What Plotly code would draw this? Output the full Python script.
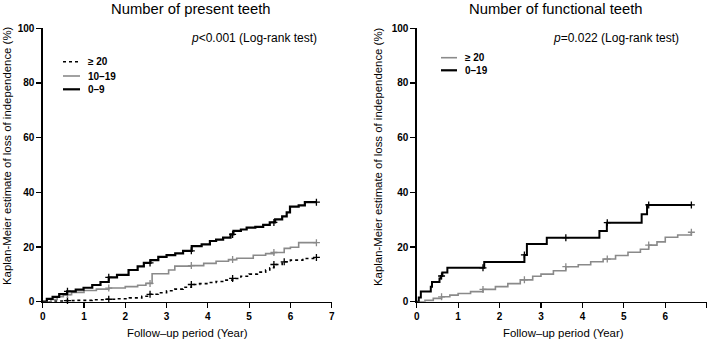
import numpy as np
import plotly.graph_objects as go

# ---------------- data ----------------
# Left panel: Number of present teeth
ge20_t = [0, 0.3, 0.5, 0.8, 1.2, 1.5, 1.8, 2.1, 2.4, 2.6, 2.8, 3.0, 3.2, 3.4, 3.6, 3.8, 4.0, 4.2, 4.4, 4.6,
          4.8, 5.0, 5.2, 5.4, 5.5, 5.6, 5.8, 6.0, 6.3, 6.63]
ge20_v = [0, 0.2, 0.4, 0.5, 0.7, 0.9, 1.1, 1.4, 2.0, 2.7, 3.3, 4.0, 4.6, 5.3, 6.3, 6.6, 7.0, 7.4, 7.9, 8.5,
          9.3, 10.1, 10.8, 11.6, 12.4, 13.6, 14.6, 15.2, 15.8, 16.2]

p1019_t = [0, 0.2, 0.35, 0.5, 0.7, 1.0, 1.3, 1.6, 2.0, 2.3, 2.5, 2.65, 3.05, 3.2, 3.6, 3.9, 4.2, 4.5, 4.7,
           5.1, 5.4, 5.6, 5.85, 6.0, 6.2, 6.63]
p1019_v = [0, 0.8, 1.8, 2.6, 3.4, 4.1, 4.6, 5.0, 5.5, 6.0, 6.7, 10.2, 11.6, 13.0, 13.2, 14.0, 14.8, 15.4, 15.9,
           17.0, 17.6, 18.0, 19.5, 19.9, 21.6, 21.6]

p09_t = [0, 0.1, 0.24, 0.4, 0.59, 0.8, 0.99, 1.2, 1.4, 1.6, 1.8, 2.08, 2.3, 2.45, 2.61, 2.8, 3.0, 3.21, 3.4,
         3.61, 3.85, 4.05, 4.2, 4.37, 4.55, 4.62, 4.8, 4.94, 5.15, 5.34, 5.5, 5.63, 5.8, 5.91, 5.99, 6.2,
         6.35, 6.63]
p09_v = [0, 1.0, 1.8, 2.8, 3.8, 4.4, 5.1, 6.1, 7.2, 8.9, 9.8, 11.6, 12.9, 14.2, 15.2, 16.4, 17.0, 17.7, 18.6,
         20.3, 21.0, 22.2, 22.7, 23.4, 24.6, 25.9, 26.4, 27.1, 27.4, 28.1, 29.0, 30.1, 31.2, 32.7, 34.8, 35.2,
         36.4, 36.4]

left_censor = [0.6, 1.6, 2.6, 3.6, 4.6, 5.6, 6.63]
left_censor_ge20 = [0.6, 1.6, 2.6, 3.6, 4.6, 5.6, 5.85, 6.63]

# Right panel: Number of functional teeth
f_ge20_t = [0, 0.2, 0.4, 0.6, 0.8, 1.0, 1.3, 1.6, 1.9, 2.2, 2.5, 2.8, 3.0, 3.3, 3.6, 3.9, 4.2, 4.5, 4.8,
            5.1, 5.4, 5.6, 5.8, 6.0, 6.3, 6.63]
f_ge20_v = [0, 0.5, 1.2, 1.8, 2.4, 3.0, 3.7, 4.5, 5.5, 6.6, 8.0, 9.3, 10.1, 11.3, 12.8, 13.5, 14.6, 15.6,
            16.9, 18.1, 19.2, 20.7, 21.9, 23.6, 24.4, 25.4]

f_019_t = [0, 0.05, 0.1, 0.34, 0.37, 0.55, 0.58, 0.62, 0.74, 1.63, 2.6, 2.66, 3.14, 4.41, 4.59, 5.43, 5.56, 6.63]
f_019_v = [0, 1.5, 3.7, 5.5, 7.2, 8.5, 9.4, 10.7, 12.4, 14.5, 17.1, 21.1, 23.4, 25.9, 28.9, 32.0, 35.4, 35.4]

right_censor = [0.6, 1.6, 2.6, 3.6, 4.6, 5.6, 6.63]

titles = ["Number of present teeth", "Number of functional teeth"]
pvals = ["<i>p</i>&lt;0.001 (Log-rank test)", "<i>p</i>=0.022 (Log-rank test)"]
x_title = "Follow\u2013up period (Year)"
y_title = "Kaplan-Meier estimate of loss of independence (%)"
x_ticks = [0, 1, 2, 3, 4, 5, 6, 7]
y_ticks = [0, 20, 40, 60, 80, 100]

FONT = "Liberation Sans, Arial, sans-serif"
GRAY = "#8a8a8a"


def step_at(ts, vs, times):
    ts = np.asarray(ts)
    vs = np.asarray(vs)
    idx = np.searchsorted(ts, np.asarray(times), side="right") - 1
    return vs[np.clip(idx, 0, len(vs) - 1)]


fig = go.Figure()


def add_curve(t, v, censor, color, width, dash, xa, ya):
    fig.add_trace(go.Scatter(x=t, y=v, mode="lines", line=dict(color=color, width=width, dash=dash, shape="hv"),
                             xaxis=xa, yaxis=ya, showlegend=False, cliponaxis=False, hoverinfo="skip"))
    fig.add_trace(go.Scatter(x=censor, y=step_at(t, v, censor), mode="markers",
                             marker=dict(symbol="cross-thin", size=5, line=dict(color=color, width=1.3)),
                             xaxis=xa, yaxis=ya, showlegend=False, cliponaxis=False, hoverinfo="skip"))


add_curve(ge20_t, ge20_v, left_censor_ge20, "black", 1.6, "dot", "x", "y")
add_curve(p1019_t, p1019_v, left_censor, GRAY, 1.6, "solid", "x", "y")
add_curve(p09_t, p09_v, left_censor, "black", 2.2, "solid", "x", "y")
add_curve(f_ge20_t, f_ge20_v, right_censor, GRAY, 1.6, "solid", "x2", "y2")
add_curve(f_019_t, f_019_v, right_censor, "black", 2.0, "solid", "x2", "y2")

W, H = 709, 341
ax_common = dict(showgrid=False, zeroline=False, showline=True, linecolor="black", linewidth=1.3,
                 ticks="outside", ticklen=5, tickwidth=1.2, tickcolor="black",
                 tickfont=dict(family=FONT, size=10, color="black", weight="bold"),
                 automargin=False, fixedrange=True)

y_dom = [(H - 301.7) / H, (H - 28.3) / H]
fig.update_layout(
    width=W, height=H, margin=dict(l=0, r=0, t=0, b=0),
    paper_bgcolor="white", plot_bgcolor="white", showlegend=False,
    xaxis=dict(domain=[42.7 / W, 331.7 / W], range=[0, 7], tickvals=x_ticks, anchor="y", **ax_common),
    yaxis=dict(domain=y_dom, range=[0, 100], tickvals=y_ticks, anchor="x", **ax_common),
    xaxis2=dict(domain=[416.7 / W, 706.7 / W], range=[0, 7], tickvals=x_ticks, anchor="y2", **ax_common),
    yaxis2=dict(domain=y_dom, range=[0, 100], tickvals=y_ticks, anchor="x2", **ax_common),
)


def px(x, y):
    return x / W, 1 - y / H


ann = []
# titles
for cx, txt in [(191, titles[0]), (555.5, titles[1])]:
    X, Y = px(cx, 9)
    ann.append(dict(x=X, y=Y, text=txt, font=dict(family=FONT, size=14.8, color="black")))
# p values
for cx, txt in [(254, pvals[0]), (616, pvals[1])]:
    X, Y = px(cx, 38)
    ann.append(dict(x=X, y=Y, text=txt, font=dict(family=FONT, size=12, color="black")))
# x axis titles
for cx in [187.5, 563]:
    X, Y = px(cx, 333)
    ann.append(dict(x=X, y=Y, text=x_title, font=dict(family=FONT, size=11.4, color="black")))
# y axis titles
for cx in [7, 378]:
    X, Y = px(cx, 156)
    ann.append(dict(x=X, y=Y, text=y_title, textangle=-90, font=dict(family=FONT, size=11.4, color="black")))

# legends (manual)
legend_left = [("\u2265 20", "black", 1.6, "dot", 61.7), ("10\u201319", GRAY, 1.6, "solid", 76),
               ("0\u20139", "black", 2.2, "solid", 89.3)]
legend_right = [("\u2265 20", GRAY, 1.6, "solid", 57.7), ("0\u201319", "black", 2.2, "solid", 70.3)]
shapes = []
for items, x0, x1, xt in [(legend_left, 63, 80, 86), (legend_right, 441, 457, 463)]:
    for label, col, w, dash, yy in items:
        X0, Y0 = px(x0, yy)
        X1, _ = px(x1, yy)
        shapes.append(dict(type="line", xref="paper", yref="paper", x0=X0, x1=X1, y0=Y0, y1=Y0,
                           line=dict(color=col, width=w, dash=dash)))
        XT, _ = px(xt, yy)
        ann.append(dict(x=XT, y=Y0, text=label, xanchor="left",
                        font=dict(family=FONT, size=10, color="black", weight="bold")))

for a in ann:
    a.setdefault("xanchor", "center")
    a.update(xref="paper", yref="paper", yanchor="middle", showarrow=False)
fig.update_layout(annotations=ann, shapes=shapes)

fig.write_html("out.html", config={"displayModeBar": False, "staticPlot": True},
               post_script="document.body.style.margin='0';document.body.style.overflow='hidden';")
